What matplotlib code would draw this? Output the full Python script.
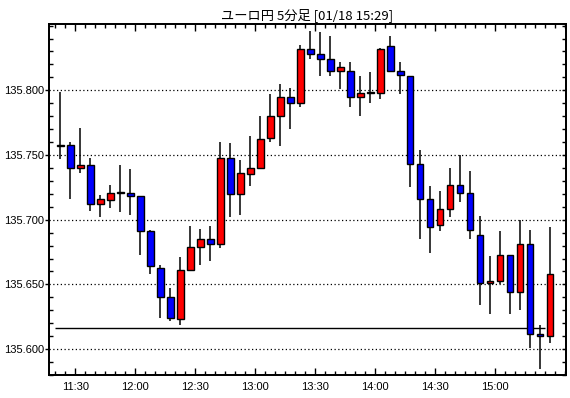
import matplotlib
matplotlib.use('Agg')
import matplotlib.pyplot as plt
from matplotlib.ticker import MultipleLocator
import numpy as np

title = 'ユーロ円 5分足 [01/18 15:29]'

opens = [135.757, 135.758, 135.740, 135.742, 135.712, 135.715, 135.721, 135.721, 135.718, 135.691,
         135.663, 135.640, 135.623, 135.661, 135.679, 135.685, 135.681, 135.748, 135.720, 135.735,
         135.740, 135.763, 135.780, 135.795, 135.790, 135.832, 135.828, 135.824, 135.815, 135.815,
         135.795, 135.798, 135.798, 135.834, 135.815, 135.811, 135.743, 135.716, 135.696, 135.708,
         135.727, 135.721, 135.688, 135.651, 135.653, 135.673, 135.644, 135.681, 135.612, 135.610]
highs = [135.799, 135.760, 135.771, 135.748, 135.719, 135.727, 135.742, 135.739, 135.718, 135.692,
         135.665, 135.647, 135.671, 135.695, 135.693, 135.695, 135.760, 135.759, 135.746, 135.765,
         135.780, 135.797, 135.805, 135.802, 135.835, 135.846, 135.845, 135.842, 135.822, 135.822,
         135.811, 135.814, 135.833, 135.842, 135.822, 135.811, 135.754, 135.726, 135.722, 135.740,
         135.750, 135.738, 135.703, 135.672, 135.691, 135.673, 135.700, 135.692, 135.619, 135.694]
lows = [135.747, 135.716, 135.736, 135.707, 135.702, 135.709, 135.706, 135.704, 135.673, 135.658,
        135.624, 135.622, 135.619, 135.660, 135.665, 135.668, 135.678, 135.702, 135.704, 135.726,
        135.739, 135.760, 135.757, 135.770, 135.787, 135.824, 135.811, 135.811, 135.801, 135.787,
        135.780, 135.790, 135.793, 135.815, 135.797, 135.725, 135.685, 135.674, 135.691, 135.702,
        135.714, 135.685, 135.634, 135.627, 135.650, 135.627, 135.630, 135.601, 135.585, 135.605]
closes = [135.757, 135.740, 135.742, 135.712, 135.716, 135.721, 135.721, 135.718, 135.691, 135.664,
          135.640, 135.624, 135.661, 135.679, 135.685, 135.681, 135.748, 135.720, 135.736, 135.740,
          135.762, 135.780, 135.795, 135.790, 135.832, 135.828, 135.824, 135.815, 135.818, 135.795,
          135.798, 135.798, 135.832, 135.815, 135.812, 135.743, 135.716, 135.694, 135.708, 135.727,
          135.721, 135.692, 135.651, 135.653, 135.673, 135.644, 135.681, 135.612, 135.610, 135.658]

ref_level = 135.616
time_labels = ['11:30', '12:00', '12:30', '13:00', '13:30', '14:00', '14:30', '15:00']
price_ticks = [135.600, 135.650, 135.700, 135.750, 135.800]

plt.rcParams['font.family'] = ['Liberation Sans', 'DejaVu Sans']

fig = plt.figure(figsize=(5.7, 3.98), dpi=100)
ax = fig.add_axes([0.0865, 0.0578, 0.906, 0.8812])

x = np.arange(len(opens))
o = np.array(opens)
c = np.array(closes)
colors = ['#ff0000' if cc > oo else ('#0000ff' if cc < oo else 'black') for oo, cc in zip(o, c)]
# give flat candles a visible thickness
body_h = np.maximum(np.abs(c - o), 0.0008)
body_b = np.minimum(o, c) - np.where(np.abs(c - o) < 0.0008, 0.0004, 0)

ax.vlines(x, lows, highs, color='black', linewidth=1.1, zorder=2)
ax.bar(x, body_h, bottom=body_b, width=0.65, color=colors, edgecolor='black', linewidth=1.0, zorder=3)
ax.hlines(ref_level, -0.5, len(opens) - 1.5, color='black', linewidth=1.0, zorder=1)

for p in price_ticks:
    ax.axhline(p, color='black', linestyle=(0, (1, 2)), linewidth=0.9, zorder=0)

ax.set_xlim(-1.1, 50.55)
ax.set_ylim(135.580, 135.851)

ax.set_xticks([1.5 + 6 * k for k in range(len(time_labels))])
ax.set_xticklabels(time_labels)
ax.set_xticks(np.arange(-0.5, 51, 1.0), minor=True)
ax.tick_params(axis='x', which='major', direction='in', length=5, width=1, top=True, labelsize=8, pad=5)
ax.tick_params(axis='x', which='minor', direction='in', length=3, width=1, top=True)

ax.set_yticks(price_ticks)
ax.set_yticklabels(['%.3f' % p for p in price_ticks])
ax.yaxis.set_minor_locator(MultipleLocator(0.01))
ax.tick_params(axis='y', which='major', direction='out', length=3, width=1, labelsize=8, pad=1)
ax.tick_params(axis='y', which='minor', direction='in', length=3, width=1)

# right side ticks point inward
ax2 = ax.twinx()
ax2.set_ylim(ax.get_ylim())
ax2.yaxis.set_major_locator(MultipleLocator(0.01))
ax2.tick_params(axis='y', direction='in', length=3, width=1, labelright=False)

for a in (ax, ax2):
    for s in a.spines.values():
        s.set_linewidth(1.3)

ax.set_title(title, fontsize=9.5, family=['Noto Sans CJK JP', 'DejaVu Sans'], pad=4)

fig.savefig('out.png', dpi=100)
